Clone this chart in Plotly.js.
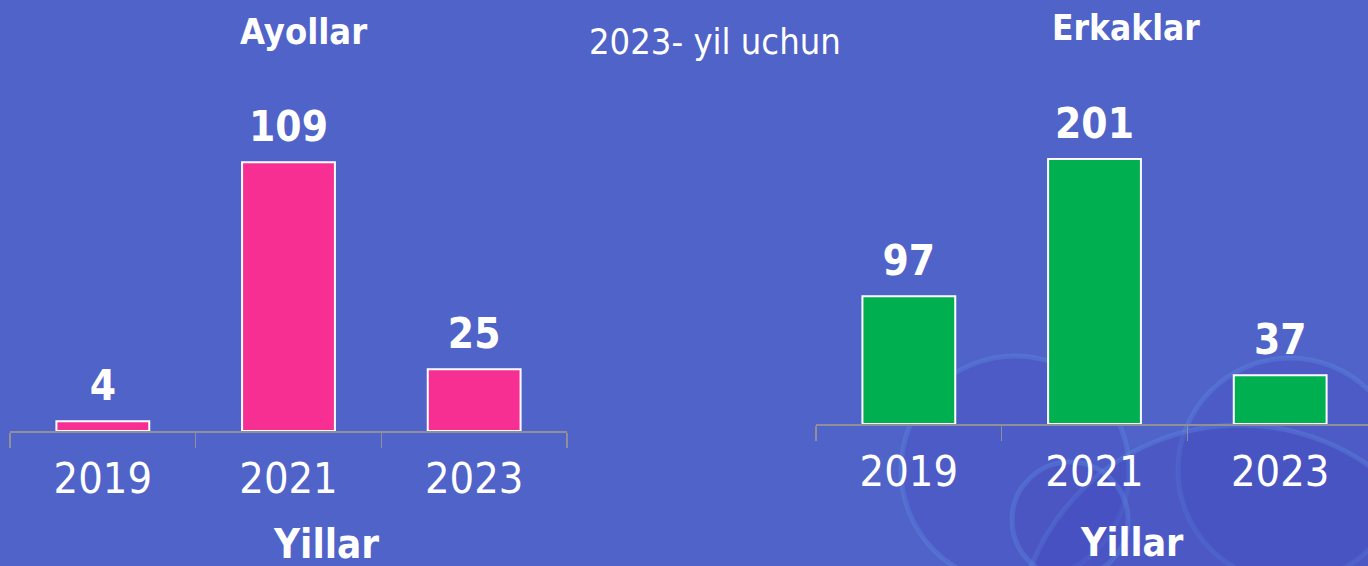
<!DOCTYPE html>
<html>
<head>
<meta charset="utf-8">
<script src="https://cdn.plot.ly/plotly-3.0.1.min.js"></script>
<style>
html,body{margin:0;padding:0;background:#5063c8;overflow:hidden;}
#chart{width:1368px;height:566px;}
</style>
</head>
<body>
<div id="chart"></div>
<script>
const years = ["2019", "2021", "2023"];
const ayollarValues = [4, 109, 25];
const erkaklarValues = [97, 201, 37];
const mainTitle = "2023- yil uchun";
const leftTitle = "Ayollar";
const rightTitle = "Erkaklar";
const axisTitle = "Yillar";

const W = 1368, H = 566;
const FONT = '"Liberation Sans Narrow", "DejaVu Sans Condensed", "Liberation Sans", sans-serif';
const px = x => x / W;
const py = y => 1 - y / H;

const labelFont = {family: FONT, size: 42, color: '#ffffff', weight: 'bold'};

const traces = [
  {type: 'bar', x: years, y: ayollarValues, xaxis: 'x', yaxis: 'y', width: 0.5,
   marker: {color: '#f72f93', line: {color: '#ffffff', width: 2}}, hoverinfo: 'skip'},
  {type: 'bar', x: years, y: erkaklarValues, xaxis: 'x2', yaxis: 'y2', width: 0.5,
   marker: {color: '#00b050', line: {color: '#ffffff', width: 2}}, hoverinfo: 'skip'},
  {type: 'scatter', mode: 'markers+text', x: years, y: ayollarValues, xaxis: 'x', yaxis: 'y',
   text: ayollarValues.map(String), textposition: 'top center', cliponaxis: false,
   marker: {size: 16, opacity: 0}, textfont: labelFont, hoverinfo: 'skip'},
  {type: 'scatter', mode: 'markers+text', x: years, y: erkaklarValues, xaxis: 'x2', yaxis: 'y2',
   text: erkaklarValues.map(String), textposition: 'top center', cliponaxis: false,
   marker: {size: 16, opacity: 0}, textfont: labelFont, hoverinfo: 'skip'}
];

const axisCommon = {
  type: 'category', showline: true, linecolor: '#8f8f9a', linewidth: 1.5,
  ticks: 'outside', tickson: 'boundaries', ticklen: 15, tickcolor: '#8f8f9a', tickwidth: 1.5,
  showgrid: false, zeroline: false, fixedrange: true,
  tickfont: {family: FONT, size: 43, color: '#ffffff'}, ticklabelstandoff: 9
};

const annotations = [
  {text: mainTitle, x: px(715), y: py(42), xref: 'paper', yref: 'paper', showarrow: false,
   xanchor: 'center', yanchor: 'middle', font: {family: FONT, size: 36, color: '#ffffff'}},
  {text: leftTitle, x: px(303), y: py(32), xref: 'paper', yref: 'paper', showarrow: false,
   xanchor: 'center', yanchor: 'middle', font: {family: FONT, size: 36, color: '#ffffff', weight: 'bold'}},
  {text: rightTitle, x: px(1126), y: py(28), xref: 'paper', yref: 'paper', showarrow: false,
   xanchor: 'center', yanchor: 'middle', font: {family: FONT, size: 35, color: '#ffffff', weight: 'bold'}},
  {text: axisTitle, x: px(326), y: py(544), xref: 'paper', yref: 'paper', showarrow: false,
   xanchor: 'center', yanchor: 'middle', font: {family: FONT, size: 40, color: '#ffffff', weight: 'bold'}},
  {text: axisTitle, x: px(1132), y: py(542), xref: 'paper', yref: 'paper', showarrow: false,
   xanchor: 'center', yanchor: 'middle', font: {family: FONT, size: 39, color: '#ffffff', weight: 'bold'}}
];

const bubble = (cx, cy, r, a) => ({
  type: 'circle', xref: 'paper', yref: 'paper', layer: 'below',
  x0: px(cx - r), x1: px(cx + r), y0: py(cy + r), y1: py(cy - r),
  fillcolor: 'rgba(70,72,192,' + a + ')', line: {color: 'rgba(95,140,225,0.35)', width: 5}
});

const layout = {
  width: W, height: H,
  margin: {l: 0, r: 0, t: 0, b: 0},
  paper_bgcolor: '#5063c8', plot_bgcolor: 'rgba(0,0,0,0)',
  showlegend: false,
  xaxis: Object.assign({}, axisCommon, {domain: [px(10), px(567)], range: [-0.5, 2.5], anchor: 'y'}),
  yaxis: {domain: [py(431), py(135)], range: [0, 120], visible: false, fixedrange: true, anchor: 'x'},
  xaxis2: Object.assign({}, axisCommon, {domain: [px(816), 1], range: [-0.5, 2.473], anchor: 'y2'}),
  yaxis2: {domain: [py(424), py(134)], range: [0, 220], visible: false, fixedrange: true, anchor: 'x2'},
  shapes: [bubble(1015, 470, 114, 0.3), bubble(1290, 470, 112, 0.3), bubble(1240, 650, 225, 0.35), bubble(1070, 520, 58, 0.25)],
  annotations: annotations
};

Plotly.newPlot('chart', traces, layout, {displayModeBar: false, staticPlot: true});
</script>
</body>
</html>
